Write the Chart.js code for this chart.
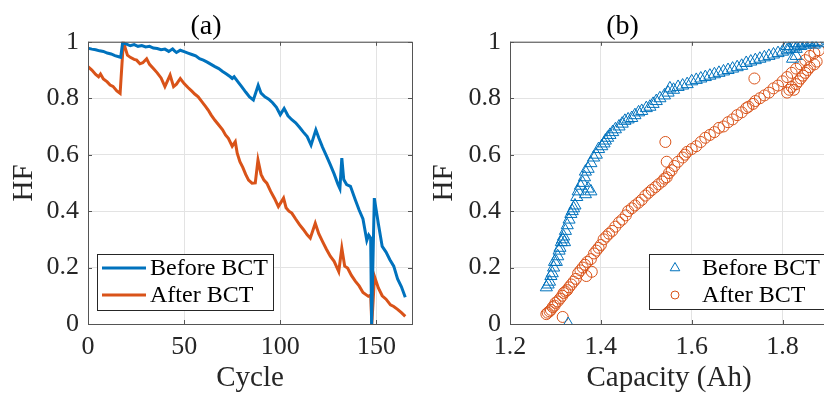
<!DOCTYPE html>
<html>
<head>
<title>HF vs Cycle and Capacity</title>
<script src="https://cdn.jsdelivr.net/npm/chart.js"></script>
<style>
    body { margin: 0; background: #fff; overflow: hidden; }
    #wrap { position: relative; width: 824px; height: 396px; overflow: hidden; }
    .pane { position: absolute; top: 0; }
    #pa { left: 0; }
    #pb { left: 412px; }
</style>
</head>
<body>
<div id="wrap">
    <div class="pane" id="pa"><canvas id="chart-a" width="414" height="396"></canvas></div>
    <div class="pane" id="pb"><canvas id="chart-b" width="424" height="396"></canvas></div>
</div>
<script>
    // ---- data ----
    const seriesLabels = ['Before BCT', 'After BCT'];
    const hfTicks = [0, 0.2, 0.4, 0.6, 0.8, 1];
    const cycleTicks = [0, 50, 100, 150];
    const capTicks = [1.2, 1.4, 1.6, 1.8];

    // (a) HF against cycle number
    const cycleBefore = [0, 2, 4, 6, 8, 10, 12, 14, 16, 17, 18, 20, 22, 24, 26, 28, 30, 32, 34, 36,
        38, 40, 42, 44, 45, 46, 48, 50, 52, 54, 56, 58, 60, 62, 64, 66, 68, 70, 72, 74,
        75, 76, 78, 80, 82, 84, 86, 88.5, 90, 92, 94, 96, 98, 100, 102, 104, 106, 108, 110, 112,
        114, 116, 118.5, 120, 122, 124, 126, 128, 130, 131, 132, 133, 134.5, 136.5, 139, 141, 143, 145, 146, 147,
        147.5, 148.9, 151, 153, 155, 157, 159, 161, 163, 165];
    const hfBefore = [0.977, 0.974, 0.972, 0.968, 0.966, 0.960, 0.957, 0.951, 0.947, 0.945, 0.996, 0.992, 0.986, 0.990, 0.984, 0.987, 0.982, 0.984, 0.978, 0.976,
        0.972, 0.974, 0.966, 0.975, 0.968, 0.962, 0.970, 0.965, 0.960, 0.955, 0.950, 0.940, 0.935, 0.928, 0.920, 0.912, 0.905, 0.895, 0.886, 0.876,
        0.870, 0.876, 0.858, 0.840, 0.822, 0.805, 0.794, 0.846, 0.818, 0.805, 0.797, 0.784, 0.768, 0.742, 0.764, 0.738, 0.724, 0.713, 0.697, 0.680,
        0.664, 0.634, 0.688, 0.660, 0.626, 0.596, 0.565, 0.532, 0.495, 0.480, 0.588, 0.512, 0.494, 0.488, 0.440, 0.404, 0.372, 0.296, 0.315, 0.305,
        0.0, 0.446, 0.355, 0.275, 0.255, 0.228, 0.205, 0.160, 0.132, 0.095];

    const cycleAfter = [0, 2, 4, 5.5, 6.5, 8, 10, 11.5, 13, 15, 16.7, 18.4, 20.5, 22, 24, 25.3, 27, 28.5, 30.5, 32,
        34, 36, 38, 40, 42.7, 44.5, 46, 48, 50, 52, 54, 55.5, 57.3, 59, 61, 62.5, 64, 66, 68, 70,
        71.5, 73, 75, 76.6, 77.6, 79, 80.5, 82, 83.5, 85.3, 87, 88.4, 90, 91.5, 93, 95, 97, 99, 101.7, 103,
        104.5, 106, 108, 110, 112, 114, 115.6, 118.2, 120, 122, 124, 126, 128, 130.4, 132, 133.5, 135, 137, 139, 141,
        143, 145.8, 147, 147.6, 149, 151, 153, 155, 157.3, 159, 161, 163, 165];
    const hfAfter = [0.912, 0.900, 0.884, 0.876, 0.886, 0.868, 0.858, 0.847, 0.842, 0.826, 0.817, 1.0, 0.953, 0.945, 0.938, 0.935, 0.922, 0.926, 0.940, 0.920,
        0.905, 0.890, 0.872, 0.841, 0.882, 0.841, 0.850, 0.870, 0.852, 0.838, 0.825, 0.815, 0.805, 0.790, 0.772, 0.758, 0.741, 0.722, 0.705, 0.688,
        0.670, 0.658, 0.630, 0.646, 0.605, 0.575, 0.555, 0.530, 0.510, 0.499, 0.500, 0.581, 0.530, 0.510, 0.499, 0.470, 0.445, 0.416, 0.446, 0.412,
        0.400, 0.393, 0.372, 0.352, 0.335, 0.316, 0.304, 0.357, 0.320, 0.292, 0.265, 0.240, 0.222, 0.186, 0.269, 0.205, 0.198, 0.172, 0.152, 0.135,
        0.112, 0.098, 0.102, 0.0, 0.168, 0.128, 0.100, 0.088, 0.068, 0.062, 0.052, 0.040, 0.027];

    // (b) HF against capacity
    const capBefore = [1.328, 1.280, 1.284, 1.287, 1.290, 1.293, 1.296, 1.298, 1.302, 1.305, 1.308, 1.310, 1.313, 1.316, 1.318, 1.320, 1.322, 1.326, 1.330, 1.334,
        1.337, 1.340, 1.343, 1.347, 1.350, 1.355, 1.360, 1.366, 1.372, 1.378, 1.364, 1.366, 1.372, 1.378, 1.384, 1.390, 1.395, 1.402, 1.407, 1.410,
        1.415, 1.420, 1.426, 1.432, 1.440, 1.447, 1.453, 1.460, 1.468, 1.475, 1.483, 1.490, 1.500, 1.508, 1.515, 1.522, 1.530, 1.540, 1.548, 1.552,
        1.560, 1.570, 1.580, 1.590, 1.600, 1.610, 1.620, 1.630, 1.640, 1.650, 1.660, 1.670, 1.680, 1.690, 1.700, 1.710, 1.720, 1.730, 1.740, 1.750,
        1.760, 1.770, 1.780, 1.790, 1.800, 1.810, 1.815, 1.825, 1.830, 1.835, 1.840, 1.845, 1.850, 1.855, 1.860, 1.865, 1.870, 1.875, 1.880, 1.822,
        1.830, 1.826, 1.810];
    const hfCapBefore = [0.00, 0.13, 0.14, 0.15, 0.17, 0.18, 0.20, 0.22, 0.22, 0.24, 0.26, 0.27, 0.29, 0.30, 0.31, 0.29, 0.33, 0.35, 0.37, 0.39,
        0.40, 0.41, 0.42, 0.45, 0.47, 0.49, 0.50, 0.46, 0.48, 0.47, 0.52, 0.54, 0.55, 0.57, 0.59, 0.60, 0.62, 0.63, 0.64, 0.65,
        0.66, 0.67, 0.68, 0.69, 0.70, 0.71, 0.72, 0.725, 0.73, 0.74, 0.75, 0.755, 0.765, 0.77, 0.78, 0.79, 0.80, 0.81, 0.82, 0.835,
        0.83, 0.84, 0.845, 0.85, 0.86, 0.865, 0.87, 0.875, 0.88, 0.885, 0.89, 0.895, 0.90, 0.905, 0.91, 0.915, 0.925, 0.93, 0.935, 0.94,
        0.945, 0.95, 0.955, 0.96, 0.965, 0.97, 0.975, 0.98, 0.975, 0.99, 0.985, 0.995, 0.99, 1.0, 0.995, 1.0, 0.99, 1.0, 0.995, 0.94,
        0.95, 0.995, 0.985];

    const capAfter = [1.280, 1.283, 1.287, 1.290, 1.294, 1.298, 1.300, 1.305, 1.310, 1.315, 1.318, 1.322, 1.326, 1.330, 1.316, 1.335, 1.340, 1.345, 1.350, 1.355,
        1.360, 1.365, 1.368, 1.370, 1.380, 1.378, 1.385, 1.390, 1.395, 1.400, 1.406, 1.412, 1.418, 1.425, 1.432, 1.440, 1.447, 1.455, 1.460, 1.468,
        1.475, 1.483, 1.490, 1.498, 1.505, 1.512, 1.520, 1.527, 1.535, 1.540, 1.545, 1.550, 1.556, 1.545, 1.562, 1.570, 1.580, 1.585, 1.590, 1.600,
        1.610, 1.542, 1.620, 1.630, 1.640, 1.650, 1.660, 1.670, 1.680, 1.690, 1.700, 1.710, 1.720, 1.725, 1.735, 1.740, 1.750, 1.760, 1.738, 1.770,
        1.780, 1.790, 1.800, 1.810, 1.820, 1.830, 1.840, 1.850, 1.860, 1.870, 1.880, 1.810, 1.815, 1.820, 1.825, 1.830, 1.835, 1.840, 1.845, 1.850,
        1.855, 1.860, 1.870, 1.875];
    const hfCapAfter = [0.035, 0.04, 0.045, 0.05, 0.06, 0.065, 0.075, 0.08, 0.09, 0.10, 0.11, 0.115, 0.12, 0.13, 0.025, 0.14, 0.15, 0.16, 0.18, 0.19,
        0.20, 0.21, 0.17, 0.22, 0.185, 0.23, 0.25, 0.26, 0.27, 0.28, 0.30, 0.31, 0.32, 0.33, 0.345, 0.36, 0.37, 0.385, 0.40, 0.41,
        0.42, 0.43, 0.44, 0.455, 0.465, 0.475, 0.485, 0.495, 0.505, 0.515, 0.52, 0.535, 0.545, 0.575, 0.56, 0.575, 0.59, 0.60, 0.61, 0.62,
        0.63, 0.645, 0.645, 0.66, 0.67, 0.68, 0.695, 0.70, 0.715, 0.725, 0.74, 0.75, 0.765, 0.77, 0.78, 0.79, 0.80, 0.81, 0.87, 0.82,
        0.835, 0.845, 0.86, 0.875, 0.89, 0.905, 0.92, 0.935, 0.95, 0.96, 0.97, 0.82, 0.83, 0.84, 0.83, 0.85, 0.86, 0.87, 0.88, 0.89,
        0.90, 0.91, 0.92, 0.93];

    // ---- style ----
    const BLUE = '#0072BD';
    const ORANGE = '#D95319';
    const SERIF = "'Liberation Serif', 'Times New Roman', serif";
    Chart.defaults.font.family = SERIF;
    Chart.defaults.color = '#262626';

    const pairs = (xs, ys) => xs.map((x, i) => ({ x: x, y: ys[i] }));
    const fixedTicks = vals => scale => { scale.ticks = vals.map(v => ({ value: v })); };

    // box around the axes, with small inward ticks (MATLAB look)
    const axesBox = {
        id: 'axesBox',
        afterDatasetsDraw(chart) {
            const { ctx, chartArea: a, scales } = chart;
            ctx.save();
            ctx.strokeStyle = '#555';
            ctx.lineWidth = 1;
            ctx.strokeRect(a.left + 0.5, a.top + 0.5, a.right - a.left, a.bottom - a.top);
            ctx.beginPath();
            scales.x.ticks.forEach(t => {
                const px = Math.round(scales.x.getPixelForValue(t.value)) + 0.5;
                ctx.moveTo(px, a.bottom); ctx.lineTo(px, a.bottom - 4);
                ctx.moveTo(px, a.top); ctx.lineTo(px, a.top + 4);
            });
            scales.y.ticks.forEach(t => {
                const py = Math.round(scales.y.getPixelForValue(t.value)) + 0.5;
                ctx.moveTo(a.left, py); ctx.lineTo(a.left + 4, py);
                ctx.moveTo(a.right, py); ctx.lineTo(a.right - 4, py);
            });
            ctx.stroke();
            ctx.restore();
        }
    };

    // legend drawn inside the plot area
    const boxLegend = {
        id: 'boxLegend',
        afterDraw(chart, args, o) {
            const ctx = chart.ctx;
            ctx.save();
            ctx.fillStyle = '#fff';
            ctx.fillRect(o.x, o.y, o.w, o.h);
            ctx.strokeStyle = '#262626';
            ctx.lineWidth = 1;
            ctx.strokeRect(o.x + 0.5, o.y + 0.5, o.w, o.h);
            ctx.font = o.fontSize + 'px ' + SERIF;
            ctx.textBaseline = 'middle';
            chart.data.datasets.forEach((ds, i) => {
                const ry = o.y + o.rows[i];
                ctx.strokeStyle = ds.borderColor;
                if (o.kind === 'line') {
                    ctx.lineWidth = ds.borderWidth;
                    ctx.beginPath();
                    ctx.moveTo(o.x + o.sample[0], ry);
                    ctx.lineTo(o.x + o.sample[1], ry);
                    ctx.stroke();
                } else {
                    ctx.lineWidth = 1;
                    const cx = o.x + o.sample[0], r = ds.pointRadius - 1.5;
                    ctx.beginPath();
                    if (ds.pointStyle === 'triangle') {
                        ctx.moveTo(cx, ry - r);
                        ctx.lineTo(cx + r * 0.87, ry + r * 0.5);
                        ctx.lineTo(cx - r * 0.87, ry + r * 0.5);
                        ctx.closePath();
                    } else {
                        ctx.arc(cx, ry, r, 0, Math.PI * 2);
                    }
                    ctx.stroke();
                }
                ctx.fillStyle = '#000';
                ctx.fillText(ds.label, o.x + o.textX, ry + 1);
            });
            ctx.restore();
        }
    };

    function axisOptions(xMin, xMax, xTicks, xTitle, yWidth, yTitlePad) {
        const grid = { color: '#e3e3e3', drawTicks: false };
        return {
            x: {
                type: 'linear', min: xMin, max: xMax,
                afterBuildTicks: fixedTicks(xTicks),
                afterFit: s => { s.height = 72; },
                grid: grid, border: { display: false },
                ticks: { font: { size: 26 }, padding: 8, maxRotation: 0, callback: v => String(v) },
                title: { display: true, text: xTitle, color: '#262626', font: { size: 29 }, padding: { top: 0, bottom: 0 } }
            },
            y: {
                min: 0, max: 1,
                afterBuildTicks: fixedTicks(hfTicks),
                afterFit: s => { s.width = yWidth; },
                grid: grid, border: { display: false },
                ticks: { font: { size: 26 }, padding: 9, callback: v => String(v) },
                title: { display: true, text: 'HF', color: '#262626', font: { size: 29 }, padding: { top: yTitlePad, bottom: 0 } }
            }
        };
    }

    function titleOptions(text) {
        return { display: true, text: text, color: '#000', font: { size: 28, weight: 'normal', lineHeight: 1.1 }, padding: { top: 11, bottom: 0 } };
    }

    // (a) line chart
    new Chart(document.getElementById('chart-a'), {
        type: 'line',
        data: {
            datasets: [
                { label: seriesLabels[0], data: pairs(cycleBefore, hfBefore), borderColor: BLUE, borderWidth: 3, pointRadius: 0, tension: 0, fill: false },
                { label: seriesLabels[1], data: pairs(cycleAfter, hfAfter), borderColor: ORANGE, borderWidth: 3, pointRadius: 0, tension: 0, fill: false }
            ]
        },
        options: {
            responsive: false,
            animation: false,
            layout: { padding: { left: 0, right: 2, top: 0, bottom: 0 } },
            scales: axisOptions(0, 168.5, cycleTicks, 'Cycle', 88, 7),
            plugins: {
                legend: { display: false },
                tooltip: { enabled: false },
                title: titleOptions('(a)'),
                boxLegend: { kind: 'line', x: 97, y: 254, w: 176, h: 56, rows: [14, 41], sample: [5, 49], textX: 53, fontSize: 24 }
            }
        },
        plugins: [axesBox, boxLegend]
    });

    // (b) scatter chart
    new Chart(document.getElementById('chart-b'), {
        type: 'scatter',
        data: {
            datasets: [
                { label: seriesLabels[0], data: pairs(capBefore, hfCapBefore), borderColor: BLUE, backgroundColor: 'rgba(0,0,0,0)', borderWidth: 1, pointStyle: 'triangle', pointRadius: 7 },
                { label: seriesLabels[1], data: pairs(capAfter, hfCapAfter), borderColor: ORANGE, backgroundColor: 'rgba(0,0,0,0)', borderWidth: 1, pointStyle: 'circle', pointRadius: 5.5 }
            ]
        },
        options: {
            responsive: false,
            animation: false,
            layout: { padding: { left: 0, right: 3, top: 0, bottom: 0 } },
            scales: axisOptions(1.2, 1.9, capTicks, 'Capacity (Ah)', 98, 15),
            plugins: {
                legend: { display: false },
                tooltip: { enabled: false },
                title: titleOptions('(b)'),
                boxLegend: { kind: 'marker', x: 237, y: 254, w: 180, h: 55, rows: [14, 41], sample: [26], textX: 53, fontSize: 24 }
            }
        },
        plugins: [axesBox, boxLegend]
    });
</script>
</body>
</html>
